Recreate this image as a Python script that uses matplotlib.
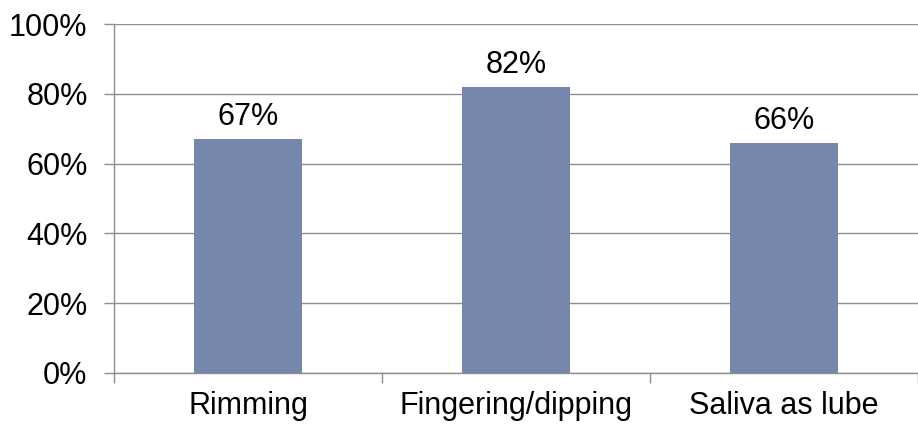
import numpy as np
import matplotlib.pyplot as plt
from matplotlib.ticker import FixedLocator, PercentFormatter

# share of respondents reporting each practice
categories = ["Rimming", "Fingering/dipping", "Saliva as lube"]
shares = [67, 82, 66]
yticks = [0, 20, 40, 60, 80, 100]

plt.rcParams['font.family'] = ['Liberation Sans', 'DejaVu Sans']

bar_color = '#7686AD'
line_color = '#8E8E8E'

fig = plt.figure(figsize=(9.18, 4.26), dpi=100)
ax = fig.add_axes([114 / 918, 53 / 426, 804 / 918, 349 / 426])

x = np.arange(len(categories))
bars = ax.bar(x, shares, width=0.4, color=bar_color, zorder=3)

for xi, v in zip(x, shares):
    ax.annotate(f"{v}%", (xi, v), xytext=(0, 5), textcoords='offset points',
                ha='center', va='bottom', fontsize=22)

ax.set_xlim(-0.5, len(categories) - 0.5)
ax.set_ylim(0, 100)
ax.set_yticks(yticks)
ax.yaxis.set_major_formatter(PercentFormatter(decimals=0))
ax.yaxis.grid(True, color=line_color, linewidth=1.0, zorder=0)

ax.set_xticks(x)
ax.set_xticklabels(categories)
ax.xaxis.set_minor_locator(FixedLocator(np.arange(len(categories) + 1) - 0.5))
ax.tick_params(axis='x', which='major', length=0, pad=13, labelsize=22)
ax.tick_params(axis='x', which='minor', length=7, color=line_color, width=1.0)
ax.tick_params(axis='y', length=7, color=line_color, width=1.0, pad=12, labelsize=22)

for side in ['top', 'right']:
    ax.spines[side].set_visible(False)
for side in ['left', 'bottom']:
    ax.spines[side].set_color(line_color)
    ax.spines[side].set_linewidth(1.0)
    ax.spines[side].set_zorder(4)

fig.savefig('out.png', dpi=100)
